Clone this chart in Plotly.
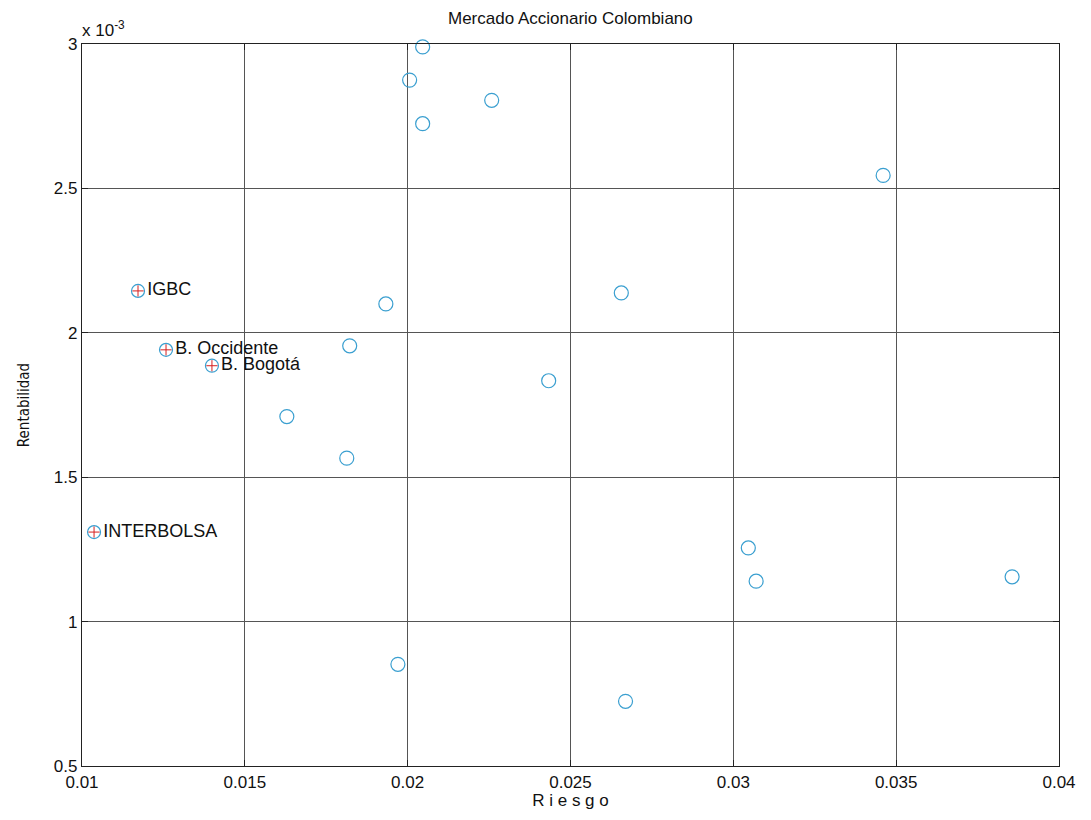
import plotly.graph_objects as go

# Unlabelled stocks: riesgo (std dev) and rentabilidad (x 10^-3)
riesgo = [0.02046, 0.02006, 0.02258, 0.02046, 0.0346, 0.01933, 0.01822, 0.01629,
          0.01813, 0.02433, 0.02656, 0.03046, 0.0307, 0.03856, 0.0197, 0.02669]
rentabilidad_e3 = [2.99, 2.875, 2.805, 2.724, 2.545, 2.10, 1.955, 1.71,
                   1.566, 1.834, 2.138, 1.255, 1.14, 1.155, 0.852, 0.724]

# Labelled series
label_names = ["IGBC", "B. Occidente", "B. Bogotá", "INTERBOLSA"]
label_riesgo = [0.01172, 0.01258, 0.01399, 0.01037]
label_rent_e3 = [2.145, 1.941, 1.886, 1.31]

x_ticks = [0.01, 0.015, 0.02, 0.025, 0.03, 0.035, 0.04]
y_ticks = [0.5, 1, 1.5, 2, 2.5, 3]

font_family = "Liberation Sans, Arial, sans-serif"
blue = "#3a9fd0"

fig = go.Figure()
fig.add_trace(go.Scatter(
    x=riesgo, y=rentabilidad_e3, mode="markers",
    marker=dict(symbol="circle-open", size=14, color=blue, line=dict(width=1.2)),
    showlegend=False, cliponaxis=False))
fig.add_trace(go.Scatter(
    x=label_riesgo, y=label_rent_e3, mode="markers+text",
    text=label_names, textposition="middle right",
    textfont=dict(family=font_family, size=18, color="#111"),
    marker=dict(symbol="circle-open", size=13, color=blue, line=dict(width=1.2)),
    showlegend=False, cliponaxis=False))
fig.add_trace(go.Scatter(
    x=label_riesgo, y=label_rent_e3, mode="markers",
    marker=dict(symbol="cross-thin-open", size=8, color="#d42020", line=dict(width=1, color="#d42020")),
    showlegend=False, cliponaxis=False))

axis_common = dict(
    showgrid=True, gridcolor="#555555", gridwidth=1,
    showline=True, linecolor="#222222", linewidth=1.2, mirror="ticks",
    ticks="inside", ticklen=6, tickcolor="#222222",
    tickfont=dict(family=font_family, size=17, color="#111"),
    zeroline=False, automargin=False,
)

fig.update_layout(
    width=1091, height=820,
    paper_bgcolor="white", plot_bgcolor="white",
    margin=dict(l=74, r=40, t=36, b=62, autoexpand=False),
    xaxis=dict(range=[0.01, 0.04], tickvals=x_ticks,
               ticktext=[str(v) for v in x_ticks],
               title=dict(text="R i e s g o", standoff=2,
                          font=dict(family=font_family, size=17, color="#111")),
               **axis_common),
    yaxis=dict(range=[0.5, 3], tickvals=y_ticks,
               ticktext=[str(v) if v != int(v) else str(int(v)) for v in y_ticks],
               title=dict(text="Rentabilidad", standoff=20,
                          font=dict(family="DejaVu Sans Condensed, Liberation Sans Narrow, sans-serif", size=15, color="#111")),
               **axis_common),
    annotations=[
        dict(text="Mercado Accionario Colombiano", xref="paper", yref="paper",
             x=0.5, y=1.0, xanchor="center", yanchor="bottom", yshift=14,
             showarrow=False, font=dict(family=font_family, size=17, color="#111")),
        dict(text="x 10<sup>-3</sup>", xref="paper", yref="paper",
             x=0.0, y=1.0, xanchor="left", yanchor="bottom", yshift=2, xshift=-2,
             showarrow=False, font=dict(family=font_family, size=17, color="#111")),
    ],
)

fig.write_html("out.html")
